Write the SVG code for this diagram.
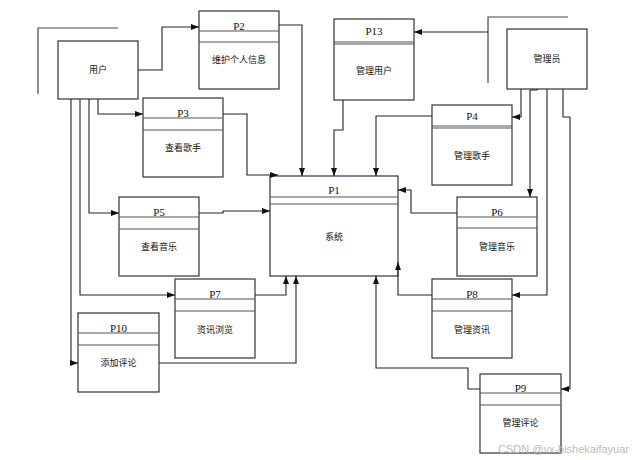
<svg xmlns="http://www.w3.org/2000/svg" width="634" height="460" viewBox="0 0 634 460">
  <style>
    .box { fill: #fff; stroke: #333; stroke-width: 1.2; }
    .hdr { stroke: #555; stroke-width: 1.2; }
    .ent { fill: #fff; stroke: #333; stroke-width: 1.2; }
    .brk { fill: none; stroke: #444; stroke-width: 1.2; }
    .pid { font-family: "Liberation Serif", "Times New Roman", serif; font-size: 11px; fill: #111; text-anchor: middle; }
    .name { font-family: "Noto Sans CJK SC", "Noto Sans", sans-serif; font-size: 9px; fill: #111; text-anchor: middle; }
    .edge { fill: none; stroke: #222; stroke-width: 1.1; marker-end: url(#arrow); }
    .mark { font-family: "Liberation Sans", Arial, sans-serif; font-size: 11px; fill: #bbb; }
  </style>
  <defs>
    <marker id="arrow" viewBox="0 0 8 6" refX="8" refY="3" markerWidth="8" markerHeight="6" markerUnits="userSpaceOnUse" orient="auto">
      <path d="M0,0 L8,3 L0,6 z" fill="#111"/>
    </marker>
  </defs>
  <rect width="634" height="460" fill="#fff"/>

  <!-- external entities -->
  <g id="user">
    <polyline class="brk" points="118,28 38,28 38,94"/>
    <rect class="ent" x="58" y="41" width="80" height="58"/>
    <text class="name" x="98" y="73">用户</text>
  </g>
  <g id="admin">
    <polyline class="brk" points="568,17 488,17 488,83"/>
    <rect class="ent" x="507" y="29" width="80" height="60"/>
    <text class="name" x="547" y="62">管理员</text>
  </g>

  <!-- processes -->
  <g id="p1">
    <rect class="box" x="270" y="176" width="128" height="100"/>
    <line class="hdr" x1="270" y1="197" x2="398" y2="197"/>
    <line class="hdr" x1="270" y1="204" x2="398" y2="204"/>
    <text class="pid" x="334" y="194">P1</text>
    <text class="name" x="334" y="240">系统</text>
  </g>
  <g id="p2">
    <rect class="box" x="199" y="11" width="80" height="78"/>
    <line class="hdr" x1="199" y1="31" x2="279" y2="31"/>
    <line class="hdr" x1="199" y1="42" x2="279" y2="42"/>
    <text class="pid" x="239" y="30">P2</text>
    <text class="name" x="239" y="63">维护个人信息</text>
  </g>
  <g id="p13">
    <rect class="box" x="334" y="19" width="80" height="81"/>
    <line class="hdr" x1="334" y1="42" x2="414" y2="42"/>
    <line class="hdr" x1="334" y1="44" x2="414" y2="44"/>
    <text class="pid" x="374" y="35">P13</text>
    <text class="name" x="374" y="74">管理用户</text>
  </g>
  <g id="p3">
    <rect class="box" x="143" y="98" width="80" height="79"/>
    <line class="hdr" x1="143" y1="118" x2="223" y2="118"/>
    <line class="hdr" x1="143" y1="130" x2="223" y2="130"/>
    <text class="pid" x="183" y="117">P3</text>
    <text class="name" x="183" y="151">查看歌手</text>
  </g>
  <g id="p4">
    <rect class="box" x="432" y="105" width="80" height="80"/>
    <line class="hdr" x1="432" y1="126" x2="512" y2="126"/>
    <line class="hdr" x1="432" y1="128" x2="512" y2="128"/>
    <text class="pid" x="472" y="120">P4</text>
    <text class="name" x="472" y="159">管理歌手</text>
  </g>
  <g id="p5">
    <rect class="box" x="119" y="197" width="80" height="79"/>
    <line class="hdr" x1="119" y1="217" x2="199" y2="217"/>
    <line class="hdr" x1="119" y1="229" x2="199" y2="229"/>
    <text class="pid" x="159" y="216">P5</text>
    <text class="name" x="159" y="250">查看音乐</text>
  </g>
  <g id="p6">
    <rect class="box" x="457" y="197" width="80" height="79"/>
    <line class="hdr" x1="457" y1="217" x2="537" y2="217"/>
    <line class="hdr" x1="457" y1="228" x2="537" y2="228"/>
    <text class="pid" x="497" y="216">P6</text>
    <text class="name" x="497" y="250">管理音乐</text>
  </g>
  <g id="p7">
    <rect class="box" x="175" y="279" width="80" height="79"/>
    <line class="hdr" x1="175" y1="299" x2="255" y2="299"/>
    <line class="hdr" x1="175" y1="311" x2="255" y2="311"/>
    <text class="pid" x="215" y="298">P7</text>
    <text class="name" x="215" y="333">资讯浏览</text>
  </g>
  <g id="p8">
    <rect class="box" x="432" y="279" width="80" height="79"/>
    <line class="hdr" x1="432" y1="299" x2="512" y2="299"/>
    <line class="hdr" x1="432" y1="311" x2="512" y2="311"/>
    <text class="pid" x="472" y="298">P8</text>
    <text class="name" x="472" y="333">管理资讯</text>
  </g>
  <g id="p10">
    <rect class="box" x="78" y="313" width="81" height="79"/>
    <line class="hdr" x1="78" y1="333" x2="159" y2="333"/>
    <line class="hdr" x1="78" y1="345" x2="159" y2="345"/>
    <text class="pid" x="118.5" y="332">P10</text>
    <text class="name" x="118.5" y="366">添加评论</text>
  </g>
  <g id="p9">
    <rect class="box" x="480" y="374" width="81" height="79"/>
    <line class="hdr" x1="480" y1="393" x2="561" y2="393"/>
    <line class="hdr" x1="480" y1="405" x2="561" y2="405"/>
    <text class="pid" x="520.5" y="392">P9</text>
    <text class="name" x="520.5" y="426">管理评论</text>
  </g>

  <!-- connectors, drawn over the boxes so arrowheads on edges stay visible -->
  <g id="connectors">
    <polyline class="edge" points="138,70 162,70 162,27 199,27"/>
    <polyline class="edge" points="279,25 302,25 302,176"/>
    <polyline class="edge" points="98,99 98,114 143,114"/>
    <polyline class="edge" points="223,114 247,114 247,175 278,175"/>
    <polyline class="edge" points="89,99 89,213 119,213"/>
    <polyline class="edge" points="199,213 223,213 223,211 270,211"/>
    <polyline class="edge" points="80,99 80,295 175,295"/>
    <polyline class="edge" points="255,295 286,295 286,276"/>
    <polyline class="edge" points="71,99 71,363 78,363"/>
    <polyline class="edge" points="159,363 296,363 296,276"/>
    <polyline class="edge" points="488,32 414,32"/>
    <polyline class="edge" points="343,100 343,130 334,130 334,176"/>
    <polyline class="edge" points="521,89 521,117 512,117"/>
    <polyline class="edge" points="432,116 376,116 376,176"/>
    <polyline class="edge" points="537,89 537,90 530,90 530,197"/>
    <polyline class="edge" points="457,213 411,213 411,190 398,190"/>
    <polyline class="edge" points="547,89 547,295 512,295"/>
    <polyline class="edge" points="432,295 398,295 398,262"/>
    <polyline class="edge" points="563,89 563,117 570,117 570,389 561,389"/>
    <polyline class="edge" points="480,389 468,389 468,368 376,368 376,276"/>
  </g>

  <text class="mark" x="498" y="453">CSDN @vx-bishekaifayuar</text>
</svg>
